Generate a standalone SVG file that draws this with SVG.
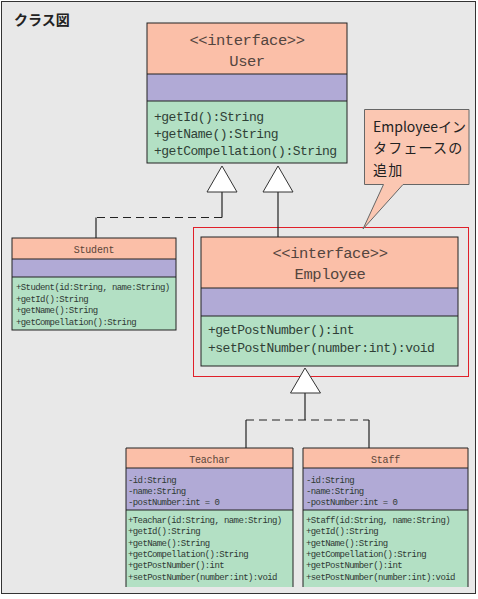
<svg xmlns="http://www.w3.org/2000/svg" width="478" height="599" viewBox="0 0 478 599">
<defs>
<style>
.bg{fill:#e8e8e8;stroke:#333;stroke-width:1}
.hd{fill:#fbbfa8}
.at{fill:#b1aad6}
.op{fill:#b3e0c4}
.ln{stroke:#222;stroke-width:1;fill:none}
.mono{font-family:"Liberation Mono","DejaVu Sans Mono",monospace}
.big{font-size:15.5px;letter-spacing:-0.45px;fill:#54453e;text-anchor:middle}
.opl{font-size:13px;letter-spacing:-0.5px;fill:#2f3f36}
.sm{font-size:10px;letter-spacing:-0.2px;fill:#5a4438;text-anchor:middle}
.tx{font-size:9px;letter-spacing:-0.6px;fill:#2f3a34}
.jp{font-family:"Noto Sans CJK JP","Liberation Sans",sans-serif}
.conn{stroke:#222;stroke-width:1.2;fill:none}
.dash{stroke-dasharray:8,5}
.tri{fill:#fff;stroke:#333;stroke-width:1}
</style>
</defs>
<rect x="1.5" y="1.5" width="474" height="592" class="bg"/>
<text x="14" y="25" class="jp" font-size="14" font-weight="bold" fill="#222">クラス図</text>

<g id="User">
<rect x="147" y="23" width="200" height="51" class="hd"/>
<rect x="147" y="74" width="200" height="27" class="at"/>
<rect x="147" y="101" width="200" height="62" class="op"/>
<rect x="147" y="23" width="200" height="140" class="ln"/>
<line x1="147" y1="74" x2="347" y2="74" class="ln"/>
<line x1="147" y1="101" x2="347" y2="101" class="ln"/>
<text x="247" y="45" class="mono big">&lt;&lt;interface&gt;&gt;</text>
<text x="247" y="66" class="mono big">User</text>
<text x="154" y="121" class="mono opl">+getId():String</text>
<text x="154" y="138" class="mono opl">+getName():String</text>
<text x="154" y="155" class="mono opl">+getCompellation():String</text>
</g>

<g id="Student">
<rect x="12" y="238" width="164" height="21" class="hd"/>
<rect x="12" y="259" width="164" height="18" class="at"/>
<rect x="12" y="277" width="164" height="53" class="op"/>
<rect x="12" y="238" width="164" height="92" class="ln"/>
<line x1="12" y1="259" x2="176" y2="259" class="ln"/>
<line x1="12" y1="277" x2="176" y2="277" class="ln"/>
<text x="94" y="252.5" class="mono sm">Student</text>
<text x="16" y="290" class="mono tx">+Student(id:String, name:String)</text>
<text x="16" y="301.5" class="mono tx">+getId():String</text>
<text x="16" y="313" class="mono tx">+getName():String</text>
<text x="16" y="324.5" class="mono tx">+getCompellation():String</text>
</g>

<g id="Highlight">
<rect x="193.5" y="227.5" width="275" height="149" fill="none" stroke="#e0202a" stroke-width="1"/>
</g>

<g id="Employee">
<rect x="201" y="237" width="257" height="51" class="hd"/>
<rect x="201" y="288" width="257" height="28" class="at"/>
<rect x="201" y="316" width="257" height="50" class="op"/>
<rect x="201" y="237" width="257" height="129" class="ln"/>
<line x1="201" y1="288" x2="458" y2="288" class="ln"/>
<line x1="201" y1="316" x2="458" y2="316" class="ln"/>
<text x="330" y="258" class="mono big">&lt;&lt;interface&gt;&gt;</text>
<text x="330" y="279" class="mono big">Employee</text>
<text x="208" y="333.5" class="mono opl">+getPostNumber():int</text>
<text x="208" y="351.5" class="mono opl">+setPostNumber(number:int):void</text>
</g>

<g id="Teachar">
<rect x="126" y="448" width="167" height="20" class="hd"/>
<rect x="126" y="468" width="167" height="42" class="at"/>
<rect x="126" y="510" width="167" height="77" class="op"/>
<path d="M126,587 V448 H293 V587" class="ln"/>
<line x1="126" y1="468" x2="293" y2="468" class="ln"/>
<line x1="126" y1="510" x2="293" y2="510" class="ln"/>
<text x="209.5" y="462.5" class="mono sm">Teachar</text>
<text x="128" y="482.5" class="mono tx">-id:String</text>
<text x="128" y="493.5" class="mono tx">-name:String</text>
<text x="128" y="504.5" class="mono tx">-postNumber:int = 0</text>
<text x="128" y="523" class="mono tx">+Teachar(id:String, name:String)</text>
<text x="128" y="534.3" class="mono tx">+getId():String</text>
<text x="128" y="545.6" class="mono tx">+getName():String</text>
<text x="128" y="556.9" class="mono tx">+getCompellation():String</text>
<text x="128" y="568.2" class="mono tx">+getPostNumber():int</text>
<text x="128" y="579.5" class="mono tx">+setPostNumber(number:int):void</text>
</g>

<g id="Staff">
<rect x="303" y="448" width="165" height="20" class="hd"/>
<rect x="303" y="468" width="165" height="42" class="at"/>
<rect x="303" y="510" width="165" height="77" class="op"/>
<path d="M303,587 V448 H468 V587" class="ln"/>
<line x1="303" y1="468" x2="468" y2="468" class="ln"/>
<line x1="303" y1="510" x2="468" y2="510" class="ln"/>
<text x="385.5" y="462.5" class="mono sm">Staff</text>
<text x="306" y="482.5" class="mono tx">-id:String</text>
<text x="306" y="493.5" class="mono tx">-name:String</text>
<text x="306" y="504.5" class="mono tx">-postNumber:int = 0</text>
<text x="306" y="523" class="mono tx">+Staff(id:String, name:String)</text>
<text x="306" y="534.3" class="mono tx">+getId():String</text>
<text x="306" y="545.6" class="mono tx">+getName():String</text>
<text x="306" y="556.9" class="mono tx">+getCompellation():String</text>
<text x="306" y="568.2" class="mono tx">+getPostNumber():int</text>
<text x="306" y="579.5" class="mono tx">+setPostNumber(number:int):void</text>
</g>

<g id="connectors">
<line x1="222" y1="192" x2="222" y2="217.5" class="conn"/>
<line x1="222" y1="217.5" x2="96" y2="217.5" class="conn dash"/>
<line x1="96" y1="217.5" x2="96" y2="238" class="conn"/>
<polygon points="222,166 207,192 237,192" class="tri"/>
<line x1="278" y1="192" x2="278" y2="237" class="conn"/>
<polygon points="278,166 263,192 293,192" class="tri"/>
<line x1="305" y1="393" x2="305" y2="420" class="conn"/>
<line x1="246" y1="420" x2="369" y2="420" class="conn dash"/>
<line x1="246" y1="420" x2="246" y2="448" class="conn"/>
<line x1="369" y1="420" x2="369" y2="448" class="conn"/>
<polygon points="305,368 290.5,393 320.5,393" class="tri"/>
</g>

<g id="callout">
<path d="M364.5,109.5 H469 V184.5 H403 L363,229 L383.5,184.5 H364.5 Z" fill="#fbc7b2" stroke="#666" stroke-width="1"/>
<text x="373" y="131.5" class="jp" font-size="14" fill="#222">Employeeイン</text>
<text x="373" y="153" class="jp" font-size="14" fill="#222" letter-spacing="1.2">タフェースの</text>
<text x="373" y="174.5" class="jp" font-size="14" fill="#222" letter-spacing="1.2">追加</text>
</g>
</svg>
